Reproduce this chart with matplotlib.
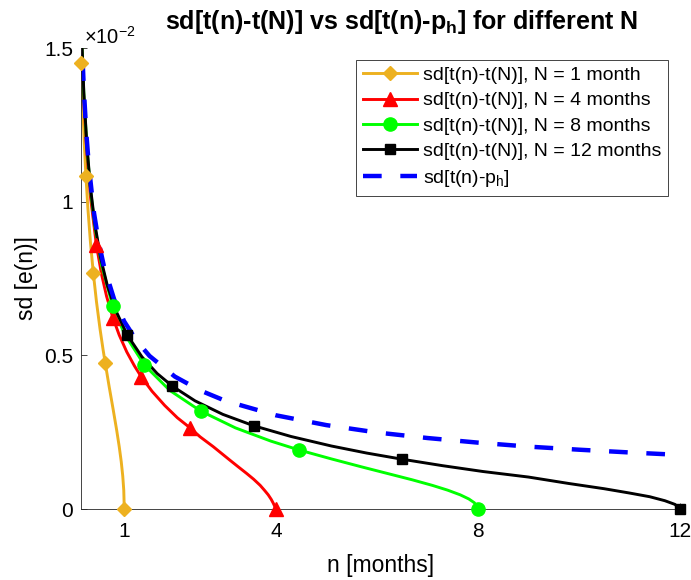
import matplotlib
matplotlib.use("Agg")
import matplotlib.pyplot as plt
from matplotlib.lines import Line2D

plt.rcParams['font.family'] = ['Liberation Sans', 'DejaVu Sans']
plt.rcParams['mathtext.default'] = 'regular'

# sd values are in units of 1e-2, n in months
n_N1 = [0.15, 0.18, 0.21, 0.241, 0.28, 0.33, 0.387, 0.45, 0.52, 0.58, 0.623,
        0.7, 0.78, 0.85, 0.9, 0.94, 0.97, 0.99, 1.0]
sd_N1 = [1.452, 1.302, 1.183, 1.083, 0.978, 0.869, 0.768, 0.674, 0.586, 0.519,
         0.475, 0.399, 0.324, 0.256, 0.203, 0.154, 0.107, 0.061, 0.0]
mk_N1 = [0.15, 0.241, 0.387, 0.623, 1.0]

n_N4 = [0.15, 0.2, 0.259, 0.33, 0.448, 0.55, 0.65, 0.774, 0.9, 1.05, 1.2, 1.337,
        1.55, 1.8, 2.05, 2.31, 2.5, 2.76, 3.09, 3.25, 3.42, 3.56, 3.69, 3.78,
        3.85, 3.91, 3.95, 3.98, 4.0]
sd_N4 = [1.545, 1.329, 1.159, 1.017, 0.859, 0.764, 0.692, 0.623, 0.566, 0.511,
         0.466, 0.430, 0.383, 0.337, 0.297, 0.263, 0.235, 0.203, 0.159, 0.138,
         0.116, 0.097, 0.077, 0.060, 0.046, 0.031, 0.0185, 0.008, 0.0]
mk_N4 = [0.448, 0.774, 1.337, 2.31, 4.0]

n_N8 = [0.15, 0.2, 0.26, 0.33, 0.42, 0.55, 0.77, 1.0, 1.4, 1.9, 2.51, 3.2, 3.9,
        4.46, 5.1, 5.7, 6.2, 6.7, 7.1, 7.4, 7.65, 7.82, 7.93, 8.0]
sd_N8 = [1.560, 1.347, 1.177, 1.040, 0.916, 0.794, 0.661, 0.571, 0.468, 0.386,
         0.319, 0.264, 0.221, 0.192, 0.163, 0.137, 0.116, 0.095, 0.0768, 0.0614,
         0.0461, 0.0327, 0.0203, 0.0]
mk_N8 = [0.77, 1.4, 2.51, 4.46, 8.0]

n_N12 = [0.15, 0.2, 0.26, 0.33, 0.42, 0.53, 0.66, 0.82, 1.06, 1.35, 1.65, 1.95,
         2.4, 2.95, 3.56, 4.3, 5.1, 5.8, 6.5, 7.3, 8.1, 9.0, 9.8, 10.5, 11.0,
         11.4, 11.7, 11.9, 12.0]
sd_N12 = [1.565, 1.353, 1.183, 1.047, 0.925, 0.819, 0.730, 0.650, 0.566, 0.495,
          0.441, 0.400, 0.352, 0.308, 0.271, 0.236, 0.205, 0.182, 0.162, 0.141,
          0.122, 0.104, 0.083, 0.066, 0.052, 0.040, 0.027, 0.015, 0.0]
mk_N12 = [1.06, 1.95, 3.56, 6.5, 12.0]

n_ph = [0.15, 0.165, 0.2, 0.25, 0.3, 0.4, 0.5, 0.6, 0.8, 1.0, 1.25, 1.5, 2.0,
        2.5, 3.0, 4.0, 5.0, 6.0, 7.0, 8.0, 9.0, 10.0, 11.0, 12.0]
sd_ph = [1.575, 1.502, 1.364, 1.220, 1.114, 0.964, 0.863, 0.788, 0.682, 0.610,
         0.546, 0.498, 0.431, 0.386, 0.352, 0.305, 0.273, 0.249, 0.231, 0.216,
         0.203, 0.193, 0.184, 0.176]

labels = ['sd[t(n)-t(N)], N = 1 month', 'sd[t(n)-t(N)], N = 4 months',
          'sd[t(n)-t(N)], N = 8 months', 'sd[t(n)-t(N)], N = 12 months',
          'sd[t(n)-p$_h$]']

fig = plt.figure(figsize=(6.91, 5.8), dpi=100)
ax = fig.add_axes([0.1177, 0.1224, 0.8664, 0.7948])

series = [
    (n_N1, sd_N1, mk_N1, '#EDB120', 'D', 7.5),
    (n_N4, sd_N4, mk_N4, '#FF0000', '^', 10),
    (n_N8, sd_N8, mk_N8, '#00FF00', 'o', 9.5),
    (n_N12, sd_N12, mk_N12, '#000000', 's', 7.5),
]
handles = []
for n, sd, mk, col, m, ms in series:
    ax.plot(n, sd, color=col, lw=2.1, solid_capstyle='butt')
    # markers drawn unclipped so the end points on the axis show whole
    idx = [n.index(v) for v in mk]
    ax.plot(n, sd, ls='none', marker=m, ms=ms, color=col, mec=col,
            markevery=idx, clip_on=False, zorder=3)
    handles.append(Line2D([], [], color=col, lw=2.1, marker=m, ms=ms, mec=col))

ax.plot(n_ph, sd_ph, color='#0000FF', lw=3.2, dashes=(4.2, 4.2))
handles.append(Line2D([], [], color='#0000FF', lw=3.2, dashes=(4.2, 4.2)))

ax.set_xlim(0.15, 12)
ax.set_ylim(0, 1.5)
ax.set_xticks([1, 4, 8, 12])
ax.set_yticks([0, 0.5, 1, 1.5])
ax.set_yticklabels(['0', '0.5', '1', '1.5'])
ax.spines['top'].set_visible(False)
ax.spines['right'].set_visible(False)
for s in ['left', 'bottom']:
    ax.spines[s].set_linewidth(0.6)
    ax.spines[s].set_color('#262626')
ax.tick_params(direction='in', length=4, width=0.6, colors='#262626',
               labelsize=15, labelcolor='#000000')
ax.tick_params(axis='x', pad=9)
ax.tick_params(axis='y', pad=6)

ax.set_xlabel('n [months]', fontsize=16.5, labelpad=10)
ax.set_ylabel('sd [e(n)]', fontsize=16.5, labelpad=4)
ax.text(0.004, 1.0, '$\\times$10$^{-2}$', transform=ax.transAxes,
        fontsize=14.5, ha='left', va='bottom')
fig.text(0.581, 0.962, 'sd[t(n)-t(N)] vs sd[t(n)-p$_h$] for different N',
         fontsize=18, fontweight='bold', ha='center', va='center')

leg = ax.legend(handles, labels, loc='upper right', fontsize=14,
                handlelength=2.8, handletextpad=0.3, labelspacing=0.4,
                borderaxespad=0.6, fancybox=False, framealpha=1,
                borderpad=0.35)
leg.get_frame().set_edgecolor('#262626')
leg.get_frame().set_linewidth(0.6)

fig.savefig('out.png', dpi=100)
